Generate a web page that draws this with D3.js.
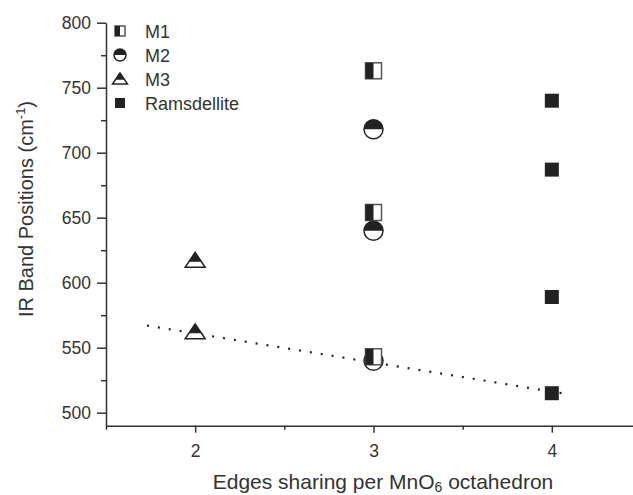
<!DOCTYPE html>
<html>
<head>
  <meta charset="utf-8">
  <title>IR band positions vs edge sharing</title>
  <style>
    html, body {
      margin: 0;
      padding: 0;
      background: #fff;
    }
    svg {
      display: block;
      font-family: "Liberation Sans", Arial, sans-serif;
    }
    .axis path, .axis line {
      stroke: #333;
      stroke-width: 1.5;
    }
    .axis text {
      fill: #333;
      font-size: 17.5px;
    }
    .title {
      fill: #333;
    }
  </style>
</head>
<body>
  <svg id="chart" width="633" height="495"></svg>

  <script src="https://d3js.org/d3.v7.min.js"></script>
  <script>
    // values
    const edges = [2, 3, 4];
    const m1 = [[3, 763], [3, 654], [3, 543]];
    const m2 = [[3, 718], [3, 640], [3, 540]];
    const m3 = [[2, 617], [2, 562]];
    const ramsdellite = [[4, 740], [4, 687], [4, 589], [4, 515]];
    const fitLine = [[1.73, 567], [4.1, 514]];
    const yTicks = [500, 550, 600, 650, 700, 750, 800];
    const legendNames = ["M1", "M2", "M3", "Ramsdellite"];

    const svg = d3.select("#chart");
    const ink = "#222";

    const x = d3.scaleLinear().domain([1.5, 4.5]).range([106, 641]);
    const y = d3.scaleLinear().domain([490, 800]).range([425.7, 22.7]);

    // y axis
    svg.append("g")
      .attr("class", "axis")
      .attr("transform", "translate(106,0)")
      .call(d3.axisLeft(y).tickValues(yTicks).tickSize(9).tickPadding(6).tickSizeOuter(0));
    svg.append("g")
      .attr("class", "axis")
      .attr("transform", "translate(106,0)")
      .call(d3.axisLeft(y).tickValues([525, 575, 625, 675, 725, 775]).tickSize(5).tickFormat("").tickSizeOuter(0))
      .select(".domain").remove();

    // x axis
    svg.append("g")
      .attr("class", "axis")
      .attr("transform", "translate(0,425.7)")
      .call(d3.axisBottom(x).tickValues(edges).tickSize(7).tickPadding(12).tickFormat(d3.format("d")).tickSizeOuter(0));
    svg.append("g")
      .attr("class", "axis")
      .attr("transform", "translate(0,425.7)")
      .call(d3.axisBottom(x).tickValues([1.5, 2.5, 3.5]).tickSize(4).tickFormat("").tickSizeOuter(0))
      .select(".domain").remove();

    // axis titles
    const xt = svg.append("text")
      .attr("class", "title")
      .attr("font-size", 21)
      .attr("x", 383)
      .attr("y", 489)
      .attr("text-anchor", "middle");
    xt.append("tspan").text("Edges sharing per MnO");
    xt.append("tspan").attr("dy", 3).attr("font-size", 14).text("6");
    xt.append("tspan").attr("dy", -3).text(" octahedron");

    const yt = svg.append("text")
      .attr("class", "title")
      .attr("font-size", 20)
      .attr("transform", "translate(33,209) rotate(-90)")
      .attr("text-anchor", "middle");
    yt.append("tspan").text("IR Band Positions (cm");
    yt.append("tspan").attr("dy", -8).attr("font-size", 13).text("-1");
    yt.append("tspan").attr("dy", 8).text(")");

    // dotted trend line
    svg.append("path")
      .datum(fitLine)
      .attr("fill", "none")
      .attr("stroke", ink)
      .attr("stroke-width", 2.2)
      .attr("stroke-dasharray", "2,9")
      .attr("d", d3.line().x(d => x(d[0])).y(d => y(d[1])));

    // marker drawers, s = size in px
    function halfSquare(g, cx, cy, s) {
      g.append("rect").attr("x", cx - s / 2).attr("y", cy - s / 2).attr("width", s).attr("height", s)
        .attr("fill", "#fff").attr("stroke", "#555").attr("stroke-width", 1.5);
      g.append("rect").attr("x", cx - s / 2).attr("y", cy - s / 2).attr("width", s / 2).attr("height", s)
        .attr("fill", ink);
    }
    function halfCircle(g, cx, cy, s) {
      const r = s / 2;
      g.append("circle").attr("cx", cx).attr("cy", cy).attr("r", r)
        .attr("fill", "#fff").attr("stroke", ink).attr("stroke-width", 1.5);
      g.append("path")
        .attr("d", `M${cx - r},${cy} A${r},${r} 0 0 1 ${cx + r},${cy} Z`)
        .attr("fill", ink);
    }
    function halfTriangle(g, cx, cy, w) {
      const h = w * 0.75;
      const top = cy - h * 0.55, bot = cy + h * 0.45;
      g.append("path")
        .attr("d", `M${cx},${top} L${cx + w / 2},${bot} L${cx - w / 2},${bot} Z`)
        .attr("fill", "#fff").attr("stroke", ink).attr("stroke-width", 1.5).attr("stroke-linejoin", "miter");
      const f = 0.62;
      g.append("path")
        .attr("d", `M${cx},${top} L${cx + f * w / 2},${top + f * h} L${cx - f * w / 2},${top + f * h} Z`)
        .attr("fill", ink);
    }
    function fullSquare(g, cx, cy, s) {
      g.append("rect").attr("x", cx - s / 2).attr("y", cy - s / 2).attr("width", s).attr("height", s)
        .attr("fill", ink);
    }

    const marks = svg.append("g");
    m2.forEach(d => halfCircle(marks, x(d[0]), y(d[1]), 19));
    m1.forEach(d => halfSquare(marks, x(d[0]), y(d[1]), 16));
    m3.forEach(d => halfTriangle(marks, x(d[0]), y(d[1]), 20));
    ramsdellite.forEach(d => fullSquare(marks, x(d[0]), y(d[1]), 14));

    // legend
    const drawers = [
      (g, cx, cy) => halfSquare(g, cx, cy, 10),
      (g, cx, cy) => halfCircle(g, cx, cy, 12),
      (g, cx, cy) => halfTriangle(g, cx, cy, 15),
      (g, cx, cy) => fullSquare(g, cx, cy, 10)
    ];
    const legend = svg.append("g");
    legendNames.forEach((name, i) => {
      const cy = 31 + i * 24;
      drawers[i](legend, 120, cy);
      legend.append("text")
        .attr("x", 145)
        .attr("y", cy + 6.5)
        .attr("fill", "#333")
        .attr("font-size", 18)
        .text(name);
    });
  </script>
</body>
</html>
